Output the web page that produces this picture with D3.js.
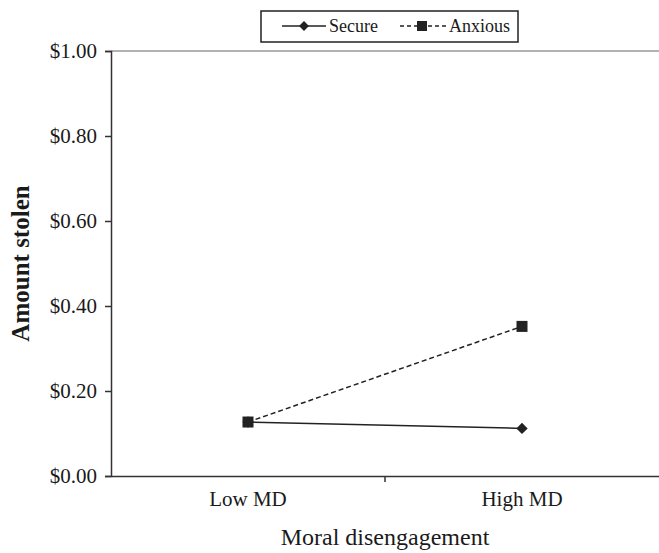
<html>
    <head>
        <style>
            body { margin: 0; background: #fff; }
            svg text { font-family: "Liberation Serif", "DejaVu Serif", "Times New Roman", Times, serif; fill: #1a1a1a; }
        </style>
    </head>
    <body>
        <div id="chart"></div>
        <script src="https://d3js.org/d3.v7.min.js"></script>
        <script>
            const categories = ['Low MD', 'High MD'];
            const secure = [0.127, 0.112];
            const anxious = [0.127, 0.352];
            const yTicks = [0, 0.2, 0.4, 0.6, 0.8, 1.0];

            const W = 659, H = 553;
            const margin = { top: 51, right: 0, bottom: 77, left: 111 };
            const width = W - margin.left - margin.right,
                height = H - margin.top - margin.bottom;
            const serif = '"Liberation Serif", "DejaVu Serif", "Times New Roman", Times, serif';

            const svg = d3.select('#chart')
                .append('svg')
                .attr('width', W)
                .attr('height', H);

            const g = svg.append('g')
                .attr('transform', `translate(${margin.left},${margin.top})`);

            const x = d3.scaleBand().domain(categories).range([0, width]);
            const y = d3.scaleLinear().domain([0, 1]).range([height, 0]);

            // top frame line (gray)
            g.append('line')
                .attr('x1', 0).attr('x2', width)
                .attr('y1', 0).attr('y2', 0)
                .attr('stroke', '#999').attr('stroke-width', 1.5);

            // y axis
            const yAxis = g.append('g')
                .attr('font-family', serif)
                .call(d3.axisLeft(y).tickValues(yTicks).tickSize(6).tickFormat(d => '$' + d.toFixed(2)));
            yAxis.attr('font-family', serif);
            yAxis.select('.domain').attr('stroke', '#333').attr('stroke-width', 1.5);
            yAxis.selectAll('.tick line').attr('stroke', '#333').attr('stroke-width', 1.5);
            yAxis.selectAll('.tick text')
                .attr('x', -14)
                .style('font-size', '21px')
                .attr('fill', '#1a1a1a');

            // x axis
            const xAxis = g.append('g')
                .attr('transform', `translate(0,${height})`)
                .call(d3.axisBottom(x).tickSize(0).tickSizeOuter(0));
            xAxis.attr('font-family', serif);
            xAxis.select('.domain').attr('stroke', '#333').attr('stroke-width', 1.5);
            xAxis.selectAll('.tick text')
                .attr('dy', 0).attr('y', 30)
                .style('font-size', '21px')
                .attr('fill', '#1a1a1a');
            // boundary tick between categories
            xAxis.append('line')
                .attr('x1', x('High MD')).attr('x2', x('High MD'))
                .attr('y1', 0).attr('y2', 6)
                .attr('stroke', '#333').attr('stroke-width', 1.5);

            // axis titles
            svg.append('text')
                .attr('x', margin.left + width / 2)
                .attr('y', 545)
                .attr('text-anchor', 'middle')
                .style('font-size', '24px')
                .text('Moral disengagement');

            svg.append('text')
                .attr('transform', `translate(29,${margin.top + height / 2}) rotate(-90)`)
                .attr('text-anchor', 'middle')
                .style('font-size', '25px')
                .style('font-weight', 'bold')
                .text('Amount stolen');

            const cx = d => x(d) + x.bandwidth() / 2;
            const line = d3.line().x((d, i) => cx(categories[i])).y(d => y(d));

            // anxious (dashed, squares)
            g.append('path')
                .datum(anxious)
                .attr('d', line)
                .attr('fill', 'none')
                .attr('stroke', '#222')
                .attr('stroke-width', 1.5)
                .attr('stroke-dasharray', '5,3');

            // secure (solid, diamonds)
            g.append('path')
                .datum(secure)
                .attr('d', line)
                .attr('fill', 'none')
                .attr('stroke', '#222')
                .attr('stroke-width', 1.5);

            g.selectAll('.diamond')
                .data(secure)
                .enter()
                .append('path')
                .attr('class', 'diamond')
                .attr('transform', (d, i) => `translate(${cx(categories[i])},${y(d)}) rotate(45)`)
                .attr('d', 'M-4,-4H4V4H-4Z')
                .attr('fill', '#222');

            g.selectAll('.square')
                .data(anxious)
                .enter()
                .append('rect')
                .attr('class', 'square')
                .attr('x', (d, i) => cx(categories[i]) - 5.5)
                .attr('y', d => y(d) - 5.5)
                .attr('width', 11).attr('height', 11)
                .attr('fill', '#222');

            // legend
            const lg = svg.append('g');
            lg.append('rect')
                .attr('x', 261).attr('y', 11)
                .attr('width', 257).attr('height', 31)
                .attr('fill', '#fff').attr('stroke', '#222').attr('stroke-width', 1.5);
            lg.append('line')
                .attr('x1', 282).attr('x2', 326).attr('y1', 26).attr('y2', 26)
                .attr('stroke', '#222').attr('stroke-width', 1.5);
            lg.append('path')
                .attr('transform', 'translate(304,26) rotate(45)')
                .attr('d', 'M-3.5,-3.5H3.5V3.5H-3.5Z')
                .attr('fill', '#222');
            lg.append('text')
                .attr('x', 329).attr('y', 32)
                .style('font-size', '18px')
                .text('Secure');
            lg.append('line')
                .attr('x1', 400).attr('x2', 446).attr('y1', 26).attr('y2', 26)
                .attr('stroke', '#222').attr('stroke-width', 1.5)
                .attr('stroke-dasharray', '4,3');
            lg.append('rect')
                .attr('x', 417).attr('y', 21)
                .attr('width', 10).attr('height', 10)
                .attr('fill', '#222');
            lg.append('text')
                .attr('x', 449).attr('y', 32)
                .style('font-size', '18px')
                .text('Anxious');
        </script>
    </body>
</html>
